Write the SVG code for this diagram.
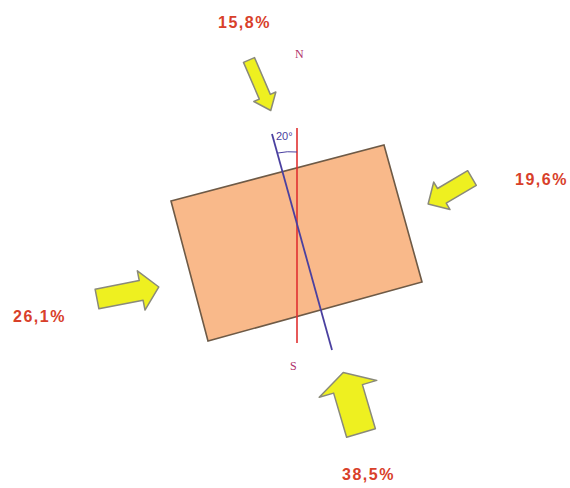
<svg xmlns="http://www.w3.org/2000/svg" width="570" height="488" viewBox="0 0 570 488">
<defs>
<style>
.lbl{font-family:"Liberation Sans",Arial,sans-serif;font-weight:bold;font-size:16px;fill:#d8402a;letter-spacing:1.5px}
.arr{fill:#eef020;stroke:#8a8a7a;stroke-width:1.5;stroke-linejoin:round}
.dir{font-family:"Liberation Serif","Times New Roman",serif;font-size:12px;fill:#b0306a}
.deg{font-family:"Liberation Sans",Arial,sans-serif;font-size:11px;fill:#4a40a0}
</style>
</defs>
<rect width="570" height="488" fill="#ffffff"/>
<g id="building">
<polygon points="171,201 384,145 422,282 208,341" fill="#f9b98a" stroke="#6e5a46" stroke-width="1.6"/>
</g>
<g id="connectors">
<line x1="297" y1="128" x2="297" y2="343" stroke="#e03030" stroke-width="1.6"/>
<line x1="272" y1="134" x2="332" y2="350" stroke="#4a40a0" stroke-width="1.8"/>
<path d="M278,153 Q287,151 297,152" fill="none" stroke="#4a40a0" stroke-width="1"/>
</g>
<g id="arrow-north">
<path class="arr" transform="translate(249,60) rotate(66.7)" d="M0,-6 L40,-6 L40,-12 L55,0 L40,12 L40,6 L0,6 Z"/>
</g>
<g id="arrow-east">
<path class="arr" transform="translate(472,178) rotate(149.4)" d="M0,-8.5 L35,-8.5 L35,-16 L51,0 L35,16 L35,8.5 L0,8.5 Z"/>
</g>
<g id="arrow-west">
<path class="arr" transform="translate(97,299) rotate(-11)" d="M0,-10 L45,-10 L45,-20 L63,0 L45,20 L45,10 L0,10 Z"/>
</g>
<g id="arrow-south">
<path class="arr" transform="translate(361,433) rotate(-106.4)" d="M0,-15 L46,-15 L46,-30 L63,0 L46,30 L46,15 L0,15 Z"/>
</g>
<g id="labels">
<text class="lbl" x="218" y="28">15,8%</text>
<text class="lbl" x="515" y="185">19,6%</text>
<text class="lbl" x="13" y="322">26,1%</text>
<text class="lbl" x="342" y="480">38,5%</text>
<text class="dir" x="295" y="58">N</text>
<text class="dir" x="290" y="370">S</text>
<text class="deg" x="276" y="140">20°</text>
</g>
</svg>
